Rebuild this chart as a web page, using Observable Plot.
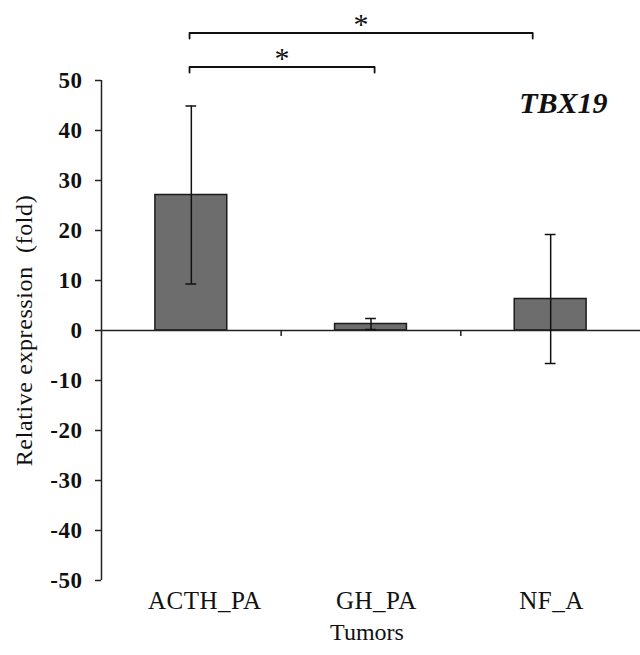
<!DOCTYPE html>
<html><head><meta charset="utf-8">
<script src="https://cdn.jsdelivr.net/npm/d3@7"></script>
<script src="https://cdn.jsdelivr.net/npm/@observablehq/plot@0.6"></script>
<style>
body{margin:0;background:#fff}
g[aria-label="y-axis tick label"] text{letter-spacing:0.5px}
g[aria-label="x-axis tick label"] text{letter-spacing:0.5px}
</style>
</head><body><div id="chart"></div>
<script>
const categories = ["ACTH_PA", "GH_PA", "NF_A"];
const means = [27.1, 1.3, 6.3];
const errors = [17.8, 1.1, 12.9];
const yTicks = [-50, -40, -30, -20, -10, 0, 10, 20, 30, 40, 50];
const gene = "TBX19";
const yLabel = "Relative expression\u00a0\u00a0(fold)";
const xLabel = "Tumors";
// significance brackets: from/to in category-index units, level in y units
const bracketFrom = [-0.01, -0.01];
const bracketTo = [1.02, 1.9];
const bracketLevel = [52.7, 59.5];
const bracketMark = ["*", "*"];

// layout: small horizontal nudges of category labels (index units), as in the original figure
const labelNudge = [0.075, 0.03, 0.005];

const data = categories.map((c, i) => ({i, cat: c, mean: means[i], err: errors[i]}));
const brackets = bracketFrom.map((f, k) => ({f, t: bracketTo[k], y: bracketLevel[k], m: bracketMark[k]}));
const bracketPaths = brackets.flatMap((b, k) => [
  {k, x: b.f, y: b.y - 1.1}, {k, x: b.f, y: b.y}, {k, x: b.t, y: b.y}, {k, x: b.t, y: b.y - 1.1}
]);

const serif = "'Liberation Serif', 'Times New Roman', serif";
const chart = Plot.plot({
  width: 640,
  height: 655,
  marginLeft: 101,
  marginRight: 0,
  marginTop: 80,
  marginBottom: 75,
  style: {fontFamily: serif, background: "#fff", color: "#111"},
  x: {type: "linear", domain: [-0.5, 2.5]},
  y: {domain: [-50, 50]},
  marks: [
    Plot.rectY(data, {x1: d => d.i - 0.2, x2: d => d.i + 0.2, y1: 0, y2: "mean", fill: "#6d6d6d", stroke: "#1a1a1a", strokeWidth: 1.5}),
    Plot.ruleY([0], {stroke: "#222", strokeWidth: 1.5}),
    Plot.ruleX([0.5, 1.5], {y1: 0, y2: -1.2, stroke: "#222", strokeWidth: 1.5}),
    Plot.ruleX([-0.5], {y1: -50, y2: 50, stroke: "#222", strokeWidth: 1.5}),
    Plot.ruleX(data, {x: "i", y1: d => d.mean - d.err, y2: d => d.mean + d.err, stroke: "#111", strokeWidth: 1.5}),
    Plot.ruleY(data, {x1: d => d.i - 0.03, x2: d => d.i + 0.03, y: d => d.mean + d.err, stroke: "#111", strokeWidth: 1.5}),
    Plot.ruleY(data, {x1: d => d.i - 0.03, x2: d => d.i + 0.03, y: d => d.mean - d.err, stroke: "#111", strokeWidth: 1.5}),
    Plot.axisY(yTicks, {tickSize: 6, tickPadding: 13, fontSize: 23, fontWeight: "bold", tickFormat: d => String(d), label: null, stroke: "#222", strokeWidth: 1.5, strokeOpacity: 1, fill: "#111"}),
    Plot.axisX(categories.map((c, i) => i + labelNudge[i]), {tickSize: 0, tickPadding: 11, fontSize: 25, tickFormat: v => categories[Math.round(v)], label: null, fill: "#111"}),
    Plot.line(bracketPaths, {x: "x", y: "y", z: "k", stroke: "#111", strokeWidth: 1.8, clip: false}),
    Plot.text(brackets, {x: d => (d.f + d.t) / 2, y: d => d.y + 1.7, text: "m", fontSize: 30, fill: "#111", lineAnchor: "middle"}),
    Plot.text([gene], {frameAnchor: "top-right", textAnchor: "end", lineAnchor: "top", dx: -33, dy: 11, fontSize: 30, fontWeight: "bold", fontStyle: "italic", fill: "#111"}),
    Plot.text([yLabel], {frameAnchor: "left", textAnchor: "middle", rotate: -90, lineAnchor: "top", dx: -87, fontSize: 24, fill: "#111"}),
    Plot.text([xLabel], {frameAnchor: "bottom", lineAnchor: "top", dy: 42, dx: -4, fontSize: 24, fill: "#111"})
  ]
});
d3.select(chart).selectAll("text").filter(function() { return this.textContent === yLabel; }).style("letter-spacing", "0.6px");
document.getElementById("chart").appendChild(chart);
</script>
</body></html>
